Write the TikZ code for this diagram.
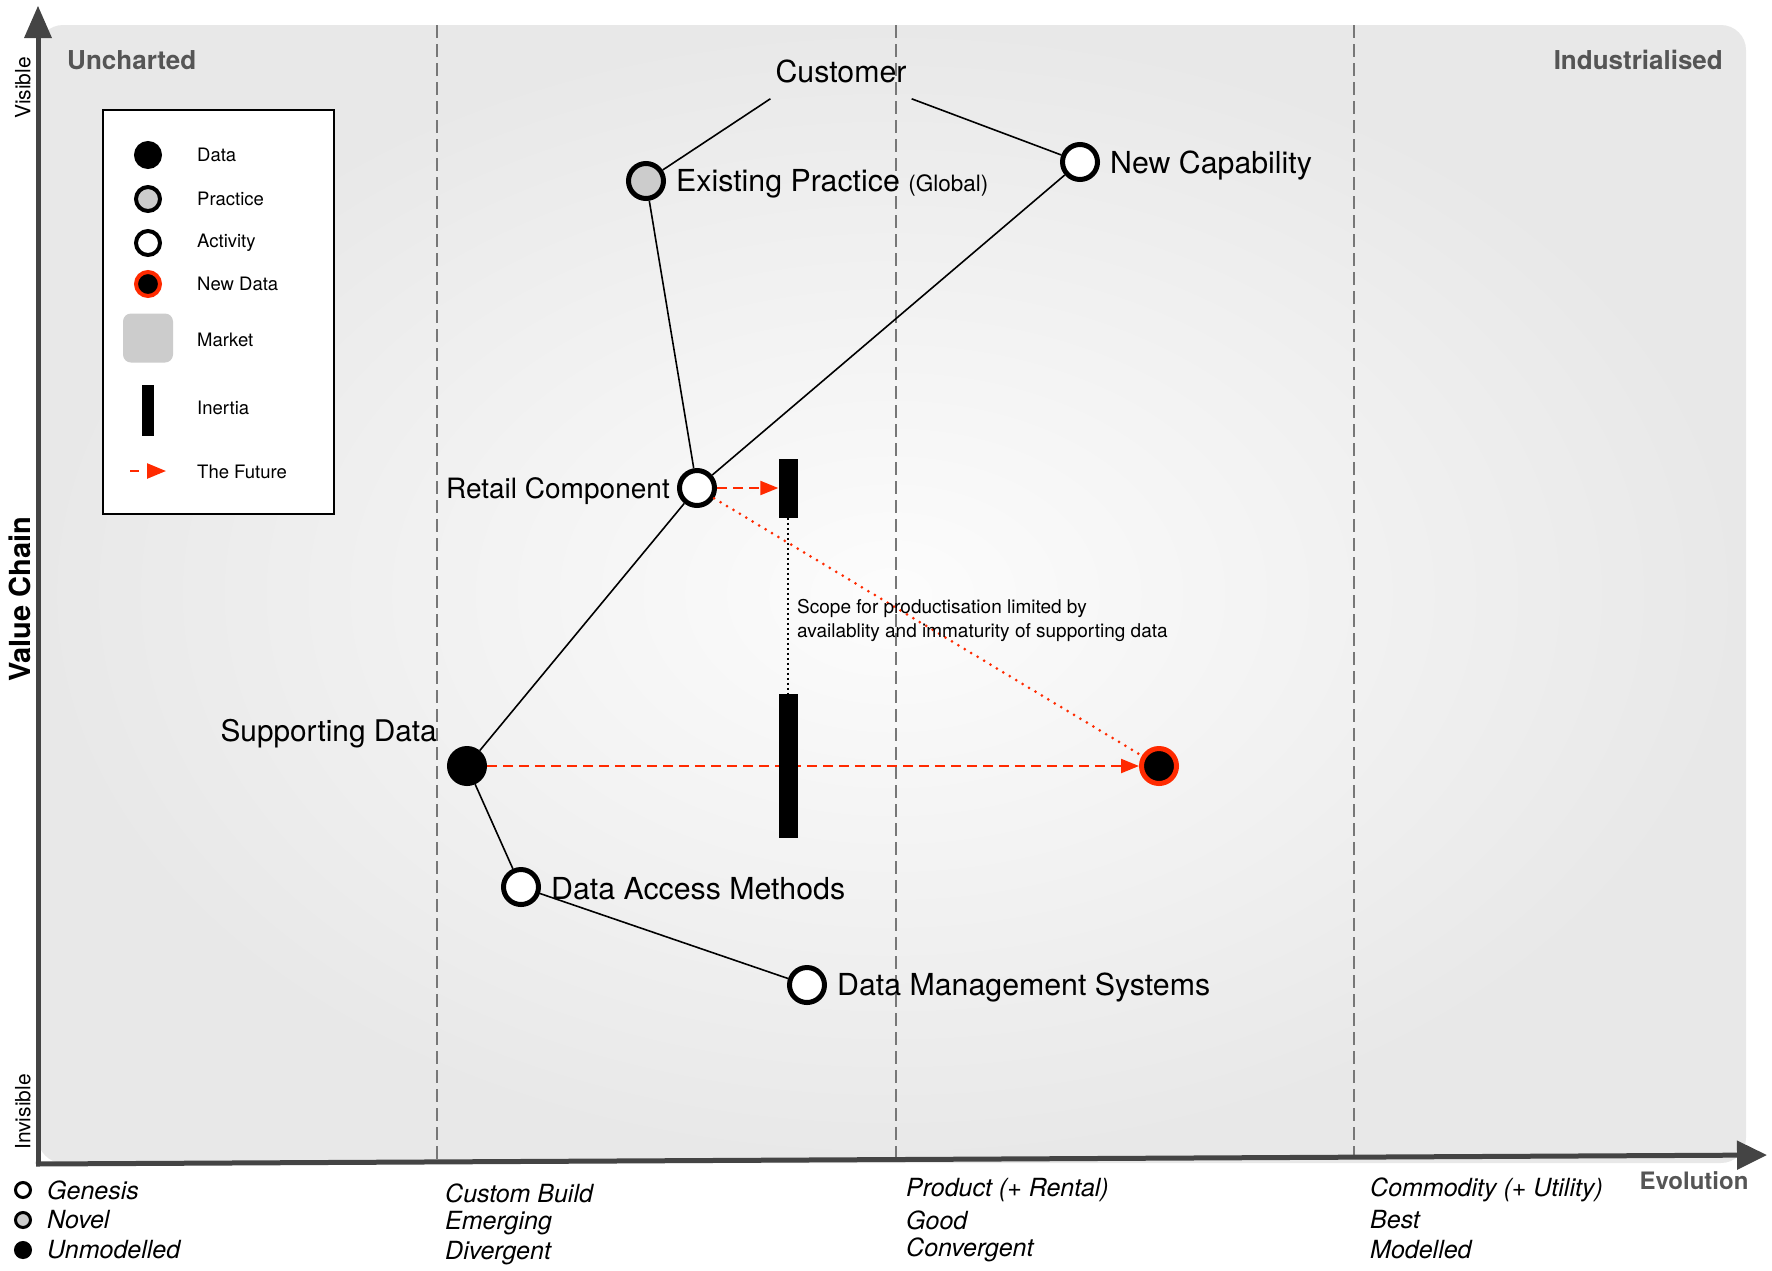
\documentclass[tikz,border=0pt]{standalone}
\usepackage{fontspec}
\setmainfont{TeX Gyre Heros}
\usetikzlibrary{arrows.meta,calc}
\definecolor{futred}{HTML}{FF2A00}
\definecolor{axisgray}{HTML}{444444}
\definecolor{labgray}{HTML}{555555}
\definecolor{divgray}{HTML}{777777}
\newcommand\fsz[2]{\fontsize{#1}{#2}\selectfont}
\begin{document}
\begin{tikzpicture}[x=1pt,y=-1pt,
  lbl/.style={font=\fsz{30.3}{35}, inner sep=0pt},
  act/.style={circle, draw=black, line width=5pt, fill=white, minimum size=35pt, inner sep=0pt},
  prac/.style={act, fill=black!20},
  dat/.style={act, fill=black},
  newdat/.style={act, fill=black, draw=futred},
  lact/.style={circle, draw=black, line width=4pt, fill=white, minimum size=24pt, inner sep=0pt},
  lprac/.style={lact, fill=black!20},
  ldat/.style={lact, fill=black},
  lnew/.style={lact, fill=black, draw=futred},
  bact/.style={circle, draw=black, line width=3pt, fill=white, minimum size=15pt, inner sep=0pt},
  bprac/.style={bact, fill=black!20},
  bdat/.style={bact, fill=black},
  inertiabar/.style={rectangle, fill=black, minimum width=19pt, inner sep=0pt},
  edge/.style={line width=1.6pt, black},
  future/.style={futred, line width=2.2pt, dash pattern=on 10pt off 6pt, -{Triangle[length=18pt,width=14pt]}},
  futuredots/.style={futred, line width=3pt, line cap=round, dash pattern=on 0pt off 7.5pt},
  divider/.style={divgray, line width=1.6pt, dash pattern=on 13pt off 6pt},
  leglbl/.style={font=\fsz{18.5}{22}, anchor=west, inner sep=0pt},
  stage/.style={font=\itshape\fsz{25}{30}, anchor=west, inner sep=0pt},
  zone/.style={font=\bfseries\fsz{26}{30}, text=labgray, inner sep=0pt}
]
\useasboundingbox (0,0) rectangle (1772,1270);

% background
\shade[inner color=black!1, outer color=black!9, rounded corners=25pt] (38,25) rectangle (1746,1163);

% stage dividers
\foreach \x in {437,896,1354} \draw[divider] (\x,25) -- (\x,1160);

% axes
\draw[axisgray, line width=5pt] (38,1164) -- (38,34);
\fill[axisgray] (38,6) -- (52,38) -- (24,38) -- cycle;
\draw[axisgray, line width=5pt, -{Triangle[length=30pt,width=28pt]}] (36,1164) -- (1767,1155);

% axis texts
\node[zone, anchor=west] at (67,60) {Uncharted};
\node[zone, anchor=east] at (1723,60) {Industrialised};
\node[rotate=90, font=\fsz{21}{24}] at (23,88) {Visible};
\node[rotate=90, font=\fsz{21}{24}] at (23,1112) {Invisible};
\node[rotate=90, font=\bfseries\fsz{29}{32}] at (20,599) {Value Chain};
\node[zone, font=\bfseries\fsz{24}{28}] at (1694,1181) {Evolution};

% bottom stage legend
\node[bact] (g1) at (23,1190) {};
\node[bprac] (g2) at (23,1220) {};
\node[bdat] (g3) at (23,1250) {};
\node[stage] at (47,1190) {Genesis};
\node[stage] at (47,1220) {Novel};
\node[stage] at (47,1250) {Unmodelled};
\node[stage] at (445,1193) {Custom Build};
\node[stage] at (445,1223) {Emerging};
\node[stage] at (445,1253) {Divergent};
\node[stage] at (906,1190) {Product (+ Rental)};
\node[stage] at (906,1220) {Good};
\node[stage] at (906,1250) {Convergent};
\node[stage] at (1370,1190) {Commodity (+ Utility)};
\node[stage] at (1370,1220) {Best};
\node[stage] at (1370,1250) {Modelled};

% legend
\draw[line width=2pt, fill=white] (103,110) rectangle (334,514);
\node[ldat] (l1) at (148,155) {};
\node[lprac] (l2) at (148,199) {};
\node[lact] (l3) at (148,243) {};
\node[lnew] (l4) at (148,284) {};
\node[rectangle, rounded corners=8pt, fill=black!20, minimum width=50pt, minimum height=49pt] (l5) at (148,338) {};
\node[inertiabar, minimum width=12pt, minimum height=51pt] (l6) at (148,410) {};
\coordinate (l7a) at (130,471);
\coordinate (l7b) at (166,471);
\draw[futred, line width=2.5pt, dash pattern=on 9pt off 20pt, -{Triangle[length=19pt,width=15pt]}] (l7a) -- (l7b);
\node[leglbl] at (197,155) {Data};
\node[leglbl] at (197,199) {Practice};
\node[leglbl] at (197,243) {Activity};
\node[leglbl] at (197,284) {New Data};
\node[leglbl] at (197,340) {Market};
\node[leglbl] at (197,408) {Inertia};
\node[leglbl] at (197,472) {The Future};

% map components
\node[lbl, inner xsep=5pt, inner ysep=16pt] (cust) at (841,71) {Customer};
\node[prac] (ep) at (646,181) {};
\node[act] (nc) at (1080,162) {};
\node[act] (rc) at (697,488) {};
\node[dat] (sd) at (467,766) {};
\node[act] (dam) at (521,887) {};
\node[act] (dms) at (807,985) {};
\node[newdat] (nd) at (1159,766) {};

\node[lbl, anchor=west] at ($(ep.east)+(10,3)$) {Existing Practice {\fsz{22.5}{26}(Global)}};
\node[lbl, anchor=west] at ($(nc.east)+(10,3)$) {New Capability};
\node[lbl, font=\fsz{28}{33}, anchor=east] at ($(rc.west)+(-7,3)$) {Retail Component};
\node[lbl, font=\fsz{29.8}{34}, anchor=east] at (437,734) {Supporting Data};
\node[lbl, anchor=west] at ($(dam.east)+(10,2)$) {Data Access Methods};
\node[lbl, anchor=west] at ($(dms.east)+(10,2)$) {Data Management Systems};

% value chain links
\draw[edge] (cust.south west) -- (ep);
\draw[edge] (cust.south east) -- (nc);
\draw[edge] (ep) -- (rc);
\draw[edge] (nc) -- (rc);
\draw[edge] (rc) -- (sd);
\draw[edge] (sd) -- (dam);
\draw[edge] (dam) -- (dms);

% future movements
\draw[future] (sd) -- (nd);
\draw[futuredots] (rc) -- (nd);

% inertia
\node[inertiabar, minimum height=59pt] (b1) at (788,488) {};
\node[inertiabar, minimum height=144pt] (b2) at (788,766) {};
\draw[future] (rc) -- (b1);
\draw[black, line width=1.6pt, dash pattern=on 2pt off 3pt] (b1) -- (b2);
\node[font=\fsz{19}{24}, align=left, anchor=west, inner sep=0pt] (note) at (797,620) {Scope for productisation limited by\\availablity and immaturity of supporting data};
\end{tikzpicture}
\end{document}
